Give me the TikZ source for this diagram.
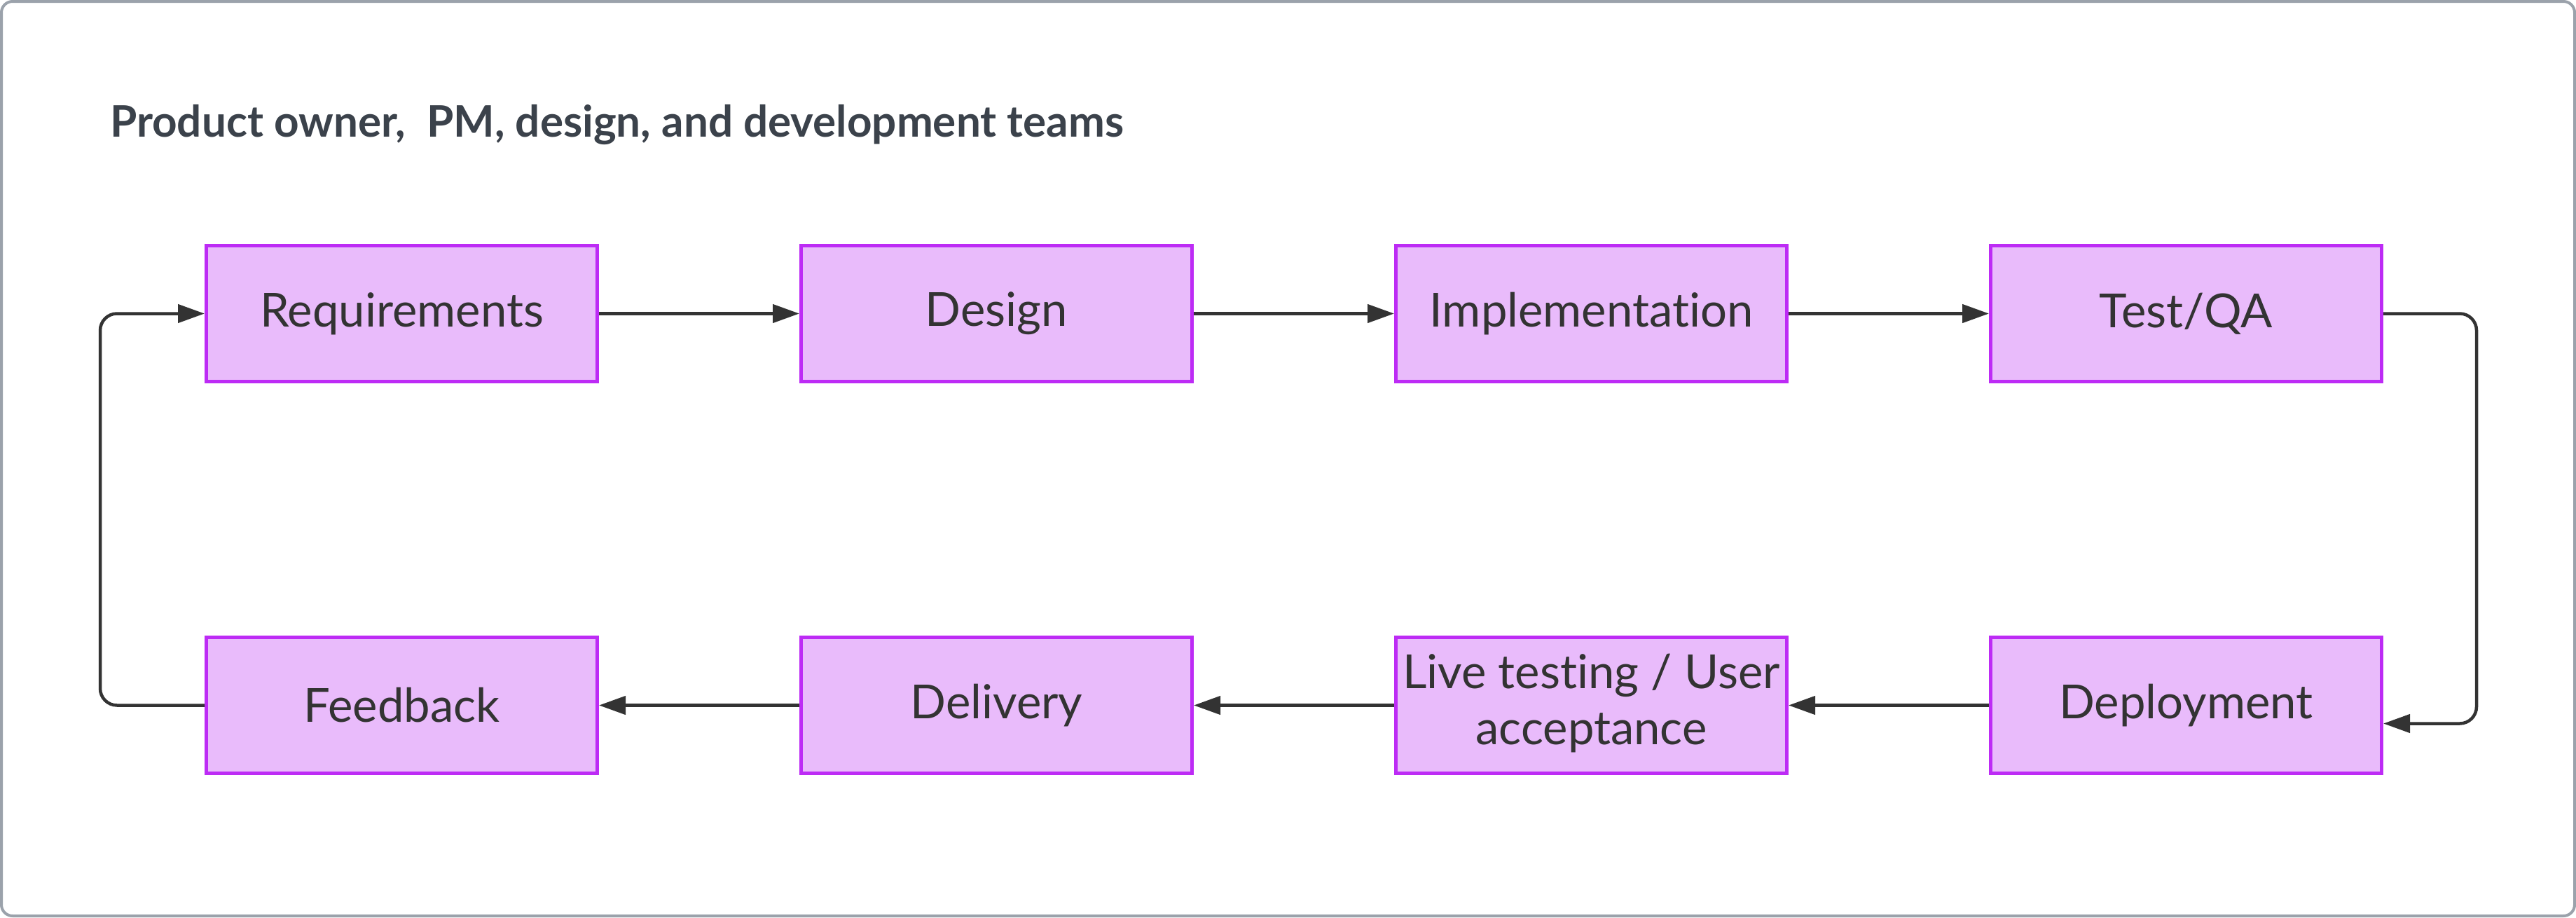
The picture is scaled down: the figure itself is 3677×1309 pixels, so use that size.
\documentclass[tikz,border=0pt]{standalone}
\usepackage{fontspec}
\setmainfont{Lato}[Ligatures=NoCommon]
\usetikzlibrary{matrix,arrows.meta}

\definecolor{boxfill}{HTML}{E9BBFB}
\definecolor{boxline}{HTML}{BD2BF5}
\definecolor{ink}{HTML}{333333}
\definecolor{titleink}{HTML}{3B424B}
\definecolor{framegray}{HTML}{9BA2AB}

\protected\def\livelabel{\begin{tabular}{@{}c@{}}Live testing / User\\acceptance\end{tabular}}

\tikzset{
    stage/.style={draw=boxline, fill=boxfill, line width=5pt, minimum width=558pt,
        minimum height=194pt, inner sep=2pt, align=center, text=ink, anchor=center,
        font=\fontsize{67}{80}\selectfont},
    flow/.style={draw=ink, line width=4.5pt, rounded corners=24pt,
        -{Triangle[length=38pt,width=26pt]}},
}

\begin{document}
\begin{tikzpicture}[x=1pt, y=-1pt]
            \useasboundingbox (0,0) rectangle (3677,1309);
            \draw[framegray, line width=4pt, rounded corners=16pt] (2,2) rectangle (3675,1307);
            \node (title) [anchor=base west, inner sep=0pt, text=titleink,
                font=\bfseries\fontsize{62}{74}\selectfont] at (157,195)
                {Product owner, \ PM, design, and development teams};
            \matrix (m) at (1847,727) [matrix of nodes, nodes={stage},
                column sep=286pt, row sep=360pt] {
                Requirements& Design& Implementation& Test/QA\\
                Feedback& Delivery& \livelabel& Deployment\\
            };
            \draw[flow] (m-1-1) -- (m-1-2);
            \draw[flow] (m-1-2) -- (m-1-3);
            \draw[flow] (m-1-3) -- (m-1-4);
            \draw[flow] (m-1-4.east) -- ++(133,0) |- ([yshift=-26pt]m-2-4.east);
            \draw[flow] (m-2-4) -- (m-2-3);
            \draw[flow] (m-2-3) -- (m-2-2);
            \draw[flow] (m-2-2) -- (m-2-1);
            \draw[flow] (m-2-1.west) -- ++(-149,0) |- (m-1-1.west);
        \end{tikzpicture}
\end{document}
